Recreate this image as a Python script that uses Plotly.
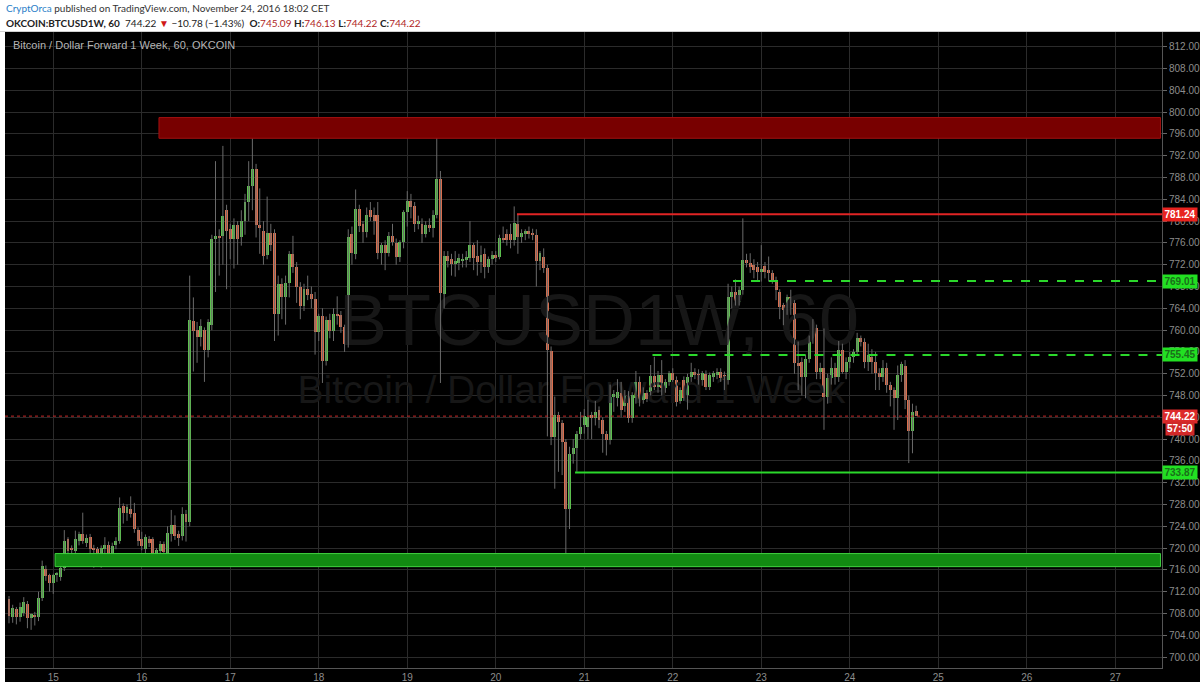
import plotly.graph_objects as go
import pandas as pd

# ---------------- data (hourly candles, OKCOIN BTCUSD1W) ----------------
start_time = "2016-11-14 12:00"

opens = [
    710.6, 707.4, 708.8, 707.3, 708.1, 709.8, 707.2, 707.8, 707.3, 710.9,
    716.2, 715.0, 713.6, 715.0, 714.7, 716.3, 721.6, 720.0, 719.5, 721.3,
    722.5, 721.0, 722.0, 720.0, 719.8, 718.0, 719.8, 720.6, 718.6, 720.6,
    721.3, 727.7, 726.5, 727.1, 726.5, 723.3, 721.6, 719.8, 721.6, 721.6,
    718.2, 719.5, 720.7, 718.9, 722.5, 724.3, 722.5, 722.2, 726.2, 724.7,
    761.7, 760.0, 758.7, 760.0, 756.4, 761.0, 776.7, 777.3, 777.3, 782.0,
    778.5, 776.8, 779.3, 777.0, 780.0, 783.5, 786.5, 789.5, 779.2, 778.2,
    773.8, 777.8, 777.8, 763.0, 768.4, 766.0, 768.7, 774.0, 771.5, 768.0,
    764.5, 767.5, 766.6, 765.8, 759.6, 762.6, 754.3, 761.9, 759.8, 763.0,
    762.8, 760.5, 757.5, 777.6, 774.0, 782.2, 779.4, 778.0, 782.0, 781.2,
    781.1, 774.2, 775.6, 774.2, 777.3, 776.0, 773.5, 776.1, 781.6, 783.7,
    782.8, 779.5, 779.5, 777.7, 779.3, 778.8, 781.1, 787.7, 766.7, 773.6,
    773.0, 772.1, 772.4, 772.6, 772.9, 773.3, 775.6, 773.6, 772.5, 773.9,
    771.6, 773.0, 773.8, 773.5, 776.9, 777.6, 777.6, 776.5, 779.4, 777.0,
    777.6, 778.1, 777.8, 777.4, 772.6, 773.5, 771.4, 756.1, 740.4, 744.4,
    742.9, 739.5, 727.2, 737.3, 738.3, 741.0, 742.6, 742.3, 744.5, 743.9,
    745.3, 743.5, 741.0, 739.8, 747.8, 747.5, 748.4, 746.0, 748.0, 743.8,
    747.5, 750.5, 747.2, 748.5, 748.7, 751.5, 749.6, 751.8, 749.3, 750.5,
    752.1, 750.8, 747.0, 750.8, 748.1, 751.4, 752.3, 752.0, 750.8, 752.0,
    749.6, 751.4, 751.8, 752.4, 751.8, 750.8, 766.1, 767.0, 765.2, 767.4,
    772.9, 772.3, 772.0, 771.6, 770.7, 771.8, 771.0, 770.4, 769.2, 767.0,
    764.6, 763.4, 766.1, 764.9, 754.0, 754.2, 751.4, 754.7, 758.5, 760.3,
    752.4, 753.0, 747.8, 751.2, 753.0, 751.4, 756.3, 752.4, 754.2, 755.1,
    756.0, 758.5, 757.9, 754.2, 755.1, 754.2, 752.1, 751.4, 753.0, 750.0,
    749.0, 747.5, 751.8, 753.5, 747.2, 741.4, 745.09,
]

highs = [
    711.2, 709.6, 709.2, 710.0, 711.0, 710.3, 708.0, 708.3, 712.0, 717.7,
    716.8, 715.3, 715.3, 715.6, 716.8, 723.3, 722.0, 720.5, 723.2, 723.0,
    726.5, 722.5, 722.6, 720.6, 720.2, 720.5, 722.0, 721.2, 721.0, 722.0,
    729.3, 728.2, 728.0, 729.5, 728.3, 723.8, 723.0, 722.5, 722.2, 722.0,
    720.0, 721.3, 721.2, 724.0, 727.0, 726.0, 723.2, 727.5, 727.0, 770.0,
    766.0, 761.5, 762.0, 760.5, 762.0, 777.5, 791.0, 778.5, 793.8, 783.0,
    779.5, 780.5, 780.0, 782.0, 785.0, 791.0, 795.2, 790.5, 786.0, 780.0,
    784.5, 779.5, 778.5, 770.0, 769.5, 770.0, 774.5, 777.3, 772.5, 768.8,
    768.5, 770.0, 768.0, 767.0, 763.0, 764.0, 762.5, 763.0, 764.0, 766.2,
    763.5, 761.0, 778.5, 779.0, 785.8, 783.0, 780.0, 782.5, 783.5, 782.5,
    783.5, 776.0, 776.5, 778.0, 779.5, 776.8, 776.5, 782.0, 785.5, 785.0,
    783.5, 781.0, 780.5, 780.0, 780.5, 782.0, 798.7, 789.2, 774.5, 774.5,
    774.0, 774.5, 774.0, 774.0, 774.5, 780.0, 776.0, 776.5, 775.5, 775.0,
    773.5, 774.5, 774.5, 777.5, 779.0, 778.5, 779.5, 782.7, 781.24, 778.5,
    778.5, 779.0, 778.6, 778.5, 774.5, 775.0, 772.0, 757.0, 747.8, 745.0,
    743.5, 740.0, 738.6, 740.0, 741.5, 745.0, 745.5, 747.2, 745.0, 747.0,
    746.0, 744.0, 741.5, 750.0, 749.0, 751.0, 750.5, 749.0, 748.8, 748.6,
    752.5, 751.5, 749.5, 749.0, 753.6, 755.1, 752.5, 754.5, 751.0, 752.5,
    753.0, 751.5, 749.5, 751.5, 752.0, 754.0, 753.0, 752.8, 752.5, 752.6,
    752.2, 752.5, 753.0, 753.0, 752.4, 768.5, 768.0, 769.3, 768.0, 780.5,
    774.0, 774.1, 773.0, 772.5, 775.6, 772.5, 773.5, 771.0, 769.8, 767.5,
    765.0, 766.5, 767.4, 765.5, 757.9, 755.0, 755.5, 759.0, 762.0, 761.0,
    754.0, 760.3, 752.0, 755.0, 754.0, 758.0, 757.5, 755.0, 756.0, 756.5,
    759.5, 759.0, 758.5, 757.5, 756.5, 756.0, 753.0, 754.5, 754.0, 750.5,
    749.5, 753.5, 754.2, 754.5, 748.0, 746.5, 746.13,
]

lows = [
    706.2, 706.3, 706.0, 706.5, 707.5, 705.3, 705.0, 705.8, 706.6, 710.3,
    714.0, 712.0, 711.6, 713.8, 714.0, 715.8, 718.5, 718.7, 718.6, 720.5,
    720.8, 720.2, 718.5, 716.4, 716.8, 716.4, 719.0, 717.0, 717.6, 719.8,
    720.8, 724.5, 725.0, 725.6, 722.8, 720.4, 719.6, 719.0, 720.2, 717.3,
    716.8, 718.6, 718.2, 718.2, 721.2, 721.5, 720.4, 721.4, 721.2, 724.0,
    752.4, 754.0, 757.0, 750.5, 755.0, 760.0, 767.0, 770.0, 772.0, 767.5,
    773.0, 771.3, 772.0, 775.5, 777.5, 780.0, 782.0, 777.0, 774.0, 772.0,
    773.0, 774.5, 758.0, 759.0, 762.0, 761.0, 766.0, 770.5, 765.0, 762.0,
    763.5, 765.5, 764.0, 755.5, 758.0, 750.3, 753.5, 758.5, 758.0, 761.0,
    759.5, 756.0, 756.8, 772.0, 773.0, 778.0, 776.0, 777.0, 780.0, 777.5,
    773.0, 772.0, 771.0, 773.5, 775.5, 772.0, 772.5, 775.0, 779.0, 780.5,
    778.0, 778.5, 776.0, 777.0, 778.0, 777.0, 780.5, 750.3, 764.0, 771.5,
    770.0, 769.8, 771.0, 771.5, 771.5, 772.5, 771.0, 770.0, 770.5, 769.5,
    770.5, 772.0, 772.5, 773.0, 776.0, 775.5, 775.0, 775.5, 774.0, 776.0,
    776.5, 776.8, 776.5, 768.0, 771.0, 770.5, 740.5, 738.9, 730.9, 734.0,
    733.4, 718.6, 723.5, 735.5, 734.0, 740.0, 741.0, 740.0, 740.0, 742.5,
    742.0, 737.5, 737.0, 739.0, 745.0, 746.0, 744.0, 745.0, 743.0, 743.0,
    746.5, 746.0, 746.5, 746.8, 748.0, 749.0, 748.5, 748.0, 748.5, 749.8,
    750.5, 746.0, 746.5, 747.0, 745.4, 750.5, 751.0, 750.0, 749.8, 749.0,
    749.0, 750.5, 751.0, 750.5, 749.0, 750.0, 764.0, 764.5, 764.5, 766.5,
    771.5, 770.5, 769.5, 768.9, 768.9, 769.5, 768.9, 768.5, 765.5, 762.0,
    760.9, 762.8, 762.8, 752.0, 749.0, 748.0, 747.5, 754.0, 757.5, 751.0,
    751.0, 741.7, 746.5, 750.0, 750.0, 750.5, 752.0, 751.0, 753.0, 754.0,
    755.5, 757.0, 753.0, 752.5, 752.0, 749.0, 749.0, 750.5, 748.5, 746.0,
    741.7, 743.5, 750.5, 745.5, 735.6, 737.4, 744.22,
]

closes = [
    707.5, 709.1, 707.3, 709.2, 710.2, 707.2, 707.9, 707.3, 710.9, 716.7,
    714.9, 713.6, 715.0, 715.5, 716.4, 721.3, 719.5, 719.8, 721.6, 722.5,
    721.3, 721.9, 719.8, 719.6, 718.9, 720.0, 720.6, 718.4, 720.4, 721.3,
    727.4, 726.5, 727.5, 726.2, 723.5, 721.3, 720.4, 722.0, 720.9, 718.9,
    719.6, 720.8, 719.2, 722.8, 724.3, 722.2, 721.9, 726.2, 724.7, 761.8,
    759.9, 758.7, 760.7, 756.4, 761.4, 776.7, 777.3, 776.9, 781.0, 778.2,
    776.8, 779.3, 776.8, 780.0, 783.5, 786.5, 789.5, 779.2, 778.7, 773.6,
    777.8, 775.7, 763.0, 768.4, 766.0, 768.7, 774.0, 771.5, 768.0, 764.5,
    767.5, 766.5, 765.8, 759.6, 762.6, 754.3, 761.8, 759.8, 763.0, 762.6,
    760.5, 757.4, 777.1, 774.2, 782.2, 779.1, 778.0, 781.2, 780.7, 780.0,
    774.2, 775.6, 774.2, 777.3, 776.1, 773.5, 776.1, 781.6, 783.6, 782.5,
    779.4, 780.0, 777.7, 779.3, 778.8, 781.1, 787.7, 766.9, 773.6, 772.6,
    772.1, 772.6, 773.2, 773.1, 773.4, 775.6, 773.3, 772.5, 773.8, 771.6,
    773.0, 773.8, 773.3, 776.9, 776.5, 776.5, 776.5, 779.7, 777.0, 777.8,
    778.1, 777.6, 777.4, 772.7, 774.2, 771.4, 756.4, 740.4, 744.4, 743.2,
    739.5, 727.2, 737.3, 738.3, 741.0, 742.3, 744.2, 744.1, 743.9, 745.0,
    743.5, 741.0, 739.8, 747.8, 748.3, 748.7, 745.3, 748.0, 743.8, 748.1,
    750.5, 747.2, 748.5, 747.3, 751.5, 749.6, 751.8, 749.3, 750.5, 752.1,
    750.9, 746.8, 749.1, 747.5, 751.4, 752.3, 751.7, 750.8, 752.1, 749.6,
    751.8, 752.1, 752.4, 751.2, 750.8, 766.1, 767.0, 765.2, 767.4, 772.9,
    772.3, 771.6, 771.0, 770.7, 771.3, 770.7, 770.4, 769.2, 767.4, 764.3,
    763.7, 766.1, 765.0, 754.0, 753.5, 751.4, 754.7, 758.5, 760.3, 752.4,
    753.0, 747.8, 751.2, 753.0, 751.4, 756.3, 752.4, 754.2, 755.1, 756.0,
    758.5, 757.9, 754.2, 755.4, 754.2, 752.1, 751.4, 753.0, 750.0, 749.0,
    747.5, 751.8, 753.7, 747.2, 741.4, 745.0, 744.22,
]

day_ticks = ["2016-11-%02d" % d for d in range(15, 28)]
day_labels = [str(d) for d in range(15, 28)]
y_ticks = list(range(700, 813, 4))

# horizontal levels drawn by the author
resistance_zone = (795.2, 799.0)
support_zone = (716.6, 719.0)
red_level = 781.24
dash_levels = [769.01, 755.45]
green_level = 733.87
last_price = 744.22
countdown = "57:50"

# ---------------- build ----------------
n = min(len(opens), len(highs), len(lows), len(closes))
times = pd.date_range(start_time, periods=n, freq="h")

GREEN = "#5cc04e"
RED = "#da6e4e"
WICK = "#6a6a6a"

wx, wy = [], []
for i in range(n):
    wx += [times[i], times[i], None]
    wy += [lows[i], highs[i], None]

base = [min(opens[i], closes[i]) for i in range(n)]
height = [max(abs(closes[i] - opens[i]), 0.2) for i in range(n)]
colors = [GREEN if closes[i] >= opens[i] else RED for i in range(n)]

fig = go.Figure()

# watermark (below candles)
fig.add_trace(go.Scatter(
    x=[pd.Timestamp("2016-11-21 04:00"), pd.Timestamp("2016-11-20 20:30")],
    y=[760.5, 748.4],
    mode="text",
    text=["BTCUSD1W, 60", "Bitcoin / Dollar Forward 1 Week"],
    textfont=dict(size=[72, 39], color="#171717", family="Liberation Sans, Arial"),
    textposition="middle center",
    hoverinfo="skip", showlegend=False,
))

fig.add_trace(go.Scatter(
    x=wx, y=wy, mode="lines",
    line=dict(color=WICK, width=1),
    hoverinfo="skip", showlegend=False,
))

fig.add_trace(go.Bar(
    x=times, y=height, base=base,
    marker=dict(color=colors, line=dict(width=0)),
    width=0.8 * 3600000,
    hoverinfo="skip", showlegend=False,
))

x_end = pd.Timestamp("2016-11-27 12:40")
x_zone_end = pd.Timestamp("2016-11-27 12:15")

shapes = []
# resistance zone
shapes.append(dict(type="rect", xref="x", yref="y",
                   x0=pd.Timestamp("2016-11-16 04:40"), x1=x_zone_end,
                   y0=resistance_zone[0], y1=resistance_zone[1],
                   fillcolor="#780000", line=dict(color="#a01010", width=1), layer="above"))
# support zone
shapes.append(dict(type="rect", xref="x", yref="y",
                   x0=pd.Timestamp("2016-11-15 00:30"), x1=x_zone_end,
                   y0=support_zone[0], y1=support_zone[1],
                   fillcolor="#128a12", line=dict(color="#3fd03f", width=1), layer="above"))
# red level
shapes.append(dict(type="line", xref="x", yref="y",
                   x0=pd.Timestamp("2016-11-20 05:45"), x1=x_end,
                   y0=red_level, y1=red_level,
                   line=dict(color="#e02424", width=2), layer="above"))
# dashed green levels
for lvl, xs in zip(dash_levels, ["2016-11-22 16:20", "2016-11-21 18:30"]):
    shapes.append(dict(type="line", xref="x", yref="y",
                       x0=pd.Timestamp(xs), x1=x_end, y0=lvl, y1=lvl,
                       line=dict(color="#2bd82b", width=2, dash="dash"), layer="above"))
# solid green level
shapes.append(dict(type="line", xref="x", yref="y",
                   x0=pd.Timestamp("2016-11-20 21:30"), x1=x_end,
                   y0=green_level, y1=green_level,
                   line=dict(color="#2bd82b", width=2), layer="above"))
# last price dotted
shapes.append(dict(type="line", xref="paper", yref="y",
                   x0=0, x1=1, y0=last_price, y1=last_price,
                   line=dict(color="#c62828", width=1, dash="dot"), layer="above"))

# header/borders in white (paper)
PW, PH = 1157.0, 636.0
shapes.append(dict(type="rect", xref="paper", yref="paper",
                   x0=-10 / PW, x1=1 + 60 / PW, y0=1.0, y1=1 + 40 / PH,
                   fillcolor="white", line=dict(width=0), layer="above"))
shapes.append(dict(type="line", xref="paper", yref="paper",
                   x0=-10 / PW, x1=1 + 60 / PW, y0=1 + 0.5 / PH, y1=1 + 0.5 / PH,
                   line=dict(color="#cfcfcf", width=1), layer="above"))
shapes.append(dict(type="rect", xref="paper", yref="paper",
                   x0=-10 / PW, x1=0, y0=-30 / PH, y1=1.0,
                   fillcolor="white", line=dict(width=0), layer="above"))
shapes.append(dict(type="rect", xref="paper", yref="paper",
                   x0=-10 / PW, x1=1 + 60 / PW, y0=-30 / PH, y1=-14 / PH,
                   fillcolor="white", line=dict(width=0), layer="above"))

annotations = []
# header
annotations.append(dict(
    xref="paper", yref="paper", x=-1 / PW, y=1 + 24 / PH, xanchor="left", yanchor="middle",
    showarrow=False, font=dict(family="Lato, Liberation Sans", size=10, color="#333333"),
    text="<span style='color:#2a7fc9'>CryptOrca</span> published on TradingView.com, November 24, 2016 18:02 CET"))
annotations.append(dict(
    xref="paper", yref="paper", x=-1 / PW, y=1 + 9 / PH, xanchor="left", yanchor="middle",
    showarrow=False, font=dict(family="Lato, Liberation Sans", size=10, color="#222222"),
    text=("<b>OKCOIN:BTCUSD1W, 60</b>  744.22 <span style='color:#d01818'>▼</span> −10.78 (−1.43%)  "
          "<b>O:</b><span style='color:#b02525'>745.09</span> "
          "<b>H:</b><span style='color:#b02525'>746.13</span> "
          "<b>L:</b><span style='color:#b02525'>744.22</span> "
          "<b>C:</b><span style='color:#b02525'>744.22</span>")))
# chart title
annotations.append(dict(
    xref="paper", yref="paper", x=6 / PW, y=1 - 13 / PH, xanchor="left", yanchor="middle",
    showarrow=False, font=dict(family="Liberation Sans, Arial", size=11, color="#b5b5b5"),
    text="Bitcoin / Dollar Forward 1 Week, 60, OKCOIN"))

# price labels on the axis
def axis_label(y, txt, bg, fg, right=False):
    return dict(xref="paper", yref="y", x=(1 + 33 / PW) if right else 1.0, y=y,
                xanchor="right" if right else "left", yanchor="middle",
                showarrow=False, text="<b>%s</b>" % txt, bgcolor=bg, borderpad=1,
                width=None if right else 32,
                font=dict(family="Liberation Sans, Arial", size=10, color=fg))

annotations.append(axis_label(red_level, "%.2f" % red_level, "#e8231f", "#ffffff"))
for lvl in dash_levels:
    annotations.append(axis_label(lvl, "%.2f" % lvl, "#22e022", "#1a6e1a"))
annotations.append(axis_label(green_level, "%.2f" % green_level, "#22e022", "#1a6e1a"))
annotations.append(axis_label(last_price, "%.2f" % last_price, "#dd2a2a", "#ffffff"))
annotations.append(axis_label(742.0, countdown, "#d02828", "#ffffff", right=True))

fig.update_layout(
    width=1200, height=687,
    margin=dict(l=5, r=38, t=32, b=19, pad=0),
    paper_bgcolor="#000000", plot_bgcolor="#000000",
    bargap=0, showlegend=False,
    shapes=shapes, annotations=annotations,
    xaxis=dict(
        type="date", range=[pd.Timestamp("2016-11-14 10:55"), x_end],
        tickvals=day_ticks, ticktext=day_labels,
        showgrid=True, gridcolor="#2b2b2b", gridwidth=1,
        showline=True, linecolor="#555555", linewidth=1,
        ticks="", tickfont=dict(family="Liberation Sans, Arial", size=10, color="#8c8c8c"),
        zeroline=False, fixedrange=True, automargin=False,
    ),
    yaxis=dict(
        side="right", range=[698.0, 814.7],
        tickvals=y_ticks, ticktext=["%.2f" % v for v in y_ticks],
        showgrid=True, gridcolor="#2b2b2b", gridwidth=1,
        showline=True, linecolor="#555555", linewidth=1,
        ticks="outside", ticklen=4, tickcolor="#666666",
        tickfont=dict(family="Liberation Sans, Arial", size=10, color="#8c8c8c"),
        zeroline=False, fixedrange=True, automargin=False,
    ),
)

fig.write_html("out.html",
               config={"displayModeBar": False},
               post_script="document.body.style.margin='0px';document.body.style.padding='0px';")
